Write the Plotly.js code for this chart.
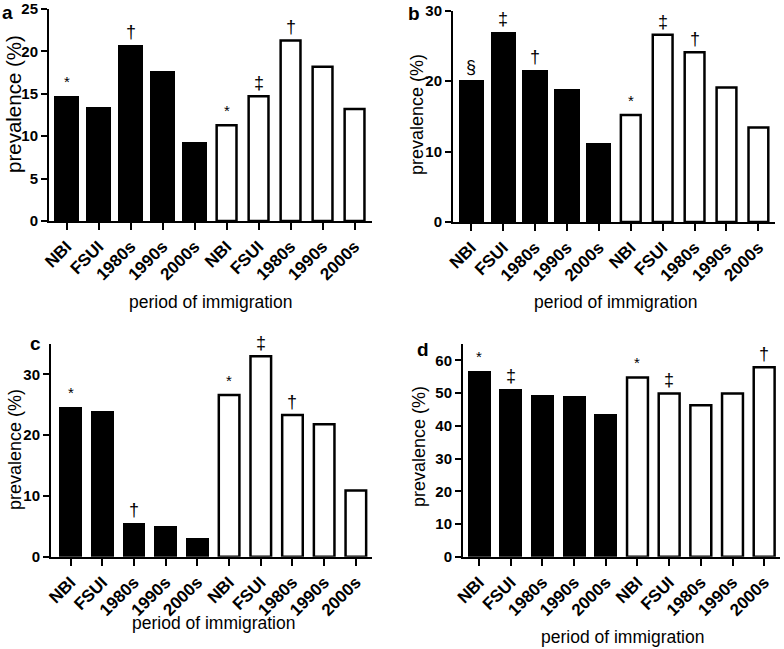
<!DOCTYPE html>
<html>
<head>
<meta charset="utf-8">
<script src="https://cdn.plot.ly/plotly-3.0.1.min.js"></script>
<style>html,body{margin:0;padding:0;background:#fff;}#chart{width:784px;height:649px;}</style>
</head>
<body>
<div id="chart"></div>
<script>
// ---- data ----
const categories = ['NBI', 'FSUI', '1980s', '1990s', '2000s'];
const tickLabels = categories.concat(categories);

const a_black = [14.8, 13.5, 20.8, 17.7, 9.35];
const a_white = [11.3, 14.7, 21.3, 18.2, 13.2];
const a_black_marks = ['*', '', '†', '', ''];
const a_white_marks = ['*', '‡', '†', '', ''];

const b_black = [20.2, 27.0, 21.6, 18.9, 11.2];
const b_white = [15.2, 26.6, 24.1, 19.1, 13.4];
const b_black_marks = ['§', '‡', '†', '', ''];
const b_white_marks = ['*', '‡', '†', '', ''];

const c_black = [24.7, 24.0, 5.5, 5.1, 3.1];
const c_white = [26.6, 33.0, 23.3, 21.8, 10.9];
const c_black_marks = ['*', '', '†', '', ''];
const c_white_marks = ['*', '‡', '†', '', ''];

const d_black = [56.7, 51.3, 49.3, 49.0, 43.6];
const d_white = [54.8, 49.9, 46.3, 49.9, 57.9];
const d_black_marks = ['*', '‡', '', '', ''];
const d_white_marks = ['*', '‡', '', '', '†'];

const yTitle = 'prevalence (%)';
const xTitle = 'period of immigration';

// ---- layout helpers ----
const W = 784, H = 649;
const FONT = 'Arial, "Liberation Sans", sans-serif';
const panels = [
  {id: '', letter: 'a', black: a_black, white: a_white, bm: a_black_marks, wm: a_white_marks,
   px: [49, 371.5], py: [9, 221], xr: [-0.55, 9.53], yr: [0, 25], dt: 5, bw: 0.79, ww: 0.62,
   letterPos: [8, 1], yt: [13, 104, 20.5], xt: [211, 302]},
  {id: '2', letter: 'b', black: b_black, white: b_white, bm: b_black_marks, wm: b_white_marks,
   px: [453, 775], py: [10.7, 222], xr: [-0.57, 9.52], yr: [0, 30], dt: 10, bw: 0.79, ww: 0.62,
   letterPos: [414, 2], yt: [417, 115, 18], xt: [615, 302]},
  {id: '3', letter: 'c', black: c_black, white: c_white, bm: c_black_marks, wm: c_white_marks,
   px: [51, 371.7], py: [344, 556.7], xr: [-0.62, 9.5], yr: [0, 35], dt: 10, bw: 0.72, ww: 0.65,
   letterPos: [35, 332], yt: [15, 450, 18], xt: [213, 623]},
  {id: '4', letter: 'd', black: d_black, white: d_white, bm: d_black_marks, wm: d_white_marks,
   px: [463, 780], py: [344, 556.7], xr: [-0.51, 9.5], yr: [0, 65], dt: 10, bw: 0.73, ww: 0.66,
   letterPos: [423, 338], yt: [419, 447, 18], xt: [622, 637]}
];

const data = [];
const annotations = [];
const layout = {
  width: W, height: H,
  margin: {l: 0, r: 0, t: 0, b: 0},
  paper_bgcolor: '#fff', plot_bgcolor: '#fff',
  showlegend: false,
  font: {family: FONT, color: '#000'},
  bargap: 0
};

panels.forEach(p => {
  const xa = 'x' + p.id, ya = 'y' + p.id;
  const n = categories.length;
  const xb = categories.map((_, i) => i);
  const xw = categories.map((_, i) => i + n);
  data.push({type: 'bar', x: xb, y: p.black, xaxis: xa, yaxis: ya, width: p.bw,
    marker: {color: '#000', line: {width: 0}}, hoverinfo: 'y'});
  data.push({type: 'bar', x: xw, y: p.white, xaxis: xa, yaxis: ya, width: p.ww,
    marker: {color: '#fff', line: {color: '#000', width: 2.5}}, hoverinfo: 'y'});

  const xKey = 'xaxis' + p.id, yKey = 'yaxis' + p.id;
  layout[xKey] = {
    domain: [p.px[0] / W, p.px[1] / W], anchor: ya, range: p.xr,
    tickmode: 'array', tickvals: xb.concat(xw), ticktext: tickLabels,
    tickangle: -45, ticks: 'outside', ticklen: 7, tickwidth: 2, tickcolor: '#000',
    showline: true, linewidth: 2, linecolor: '#000', showgrid: false, zeroline: false,
    tickfont: {family: FONT, size: 17, weight: 700, color: '#000'}, fixedrange: true
  };
  layout[yKey] = {
    domain: [1 - p.py[1] / H, 1 - p.py[0] / H], anchor: xa, range: p.yr, dtick: p.dt,
    ticks: 'outside', ticklen: 6, tickwidth: 2, tickcolor: '#000',
    showline: true, linewidth: 2, linecolor: '#000', showgrid: false, zeroline: false,
    tickfont: {family: FONT, size: 15, weight: 700, color: '#000'}, fixedrange: true
  };

  // significance marks
  const addMarks = (xs, ys, ms) => ms.forEach((m, i) => {
    if (!m) return;
    annotations.push({xref: xa, yref: ya, x: xs[i], y: ys[i], text: m, showarrow: false,
      yanchor: 'bottom', yshift: m === '*' ? 4 : 1,
      font: {family: FONT, size: m === '*' ? 15 : 18, color: '#000'}});
  });
  addMarks(xb, p.black, p.bm);
  addMarks(xw, p.white, p.wm);

  // panel letter
  annotations.push({xref: 'paper', yref: 'paper', x: p.letterPos[0] / W, y: 1 - p.letterPos[1] / H,
    text: '<b>' + p.letter + '</b>', showarrow: false, xanchor: 'center', yanchor: 'top',
    borderpad: 0, font: {family: FONT, size: 19, color: '#000'}});
  // axis titles
  annotations.push({xref: 'paper', yref: 'paper', x: p.yt[0] / W, y: 1 - p.yt[1] / H,
    text: yTitle, textangle: -90, showarrow: false, xanchor: 'center', yanchor: 'middle',
    font: {family: FONT, size: p.yt[2], color: '#000'}});
  annotations.push({xref: 'paper', yref: 'paper', x: p.xt[0] / W, y: 1 - p.xt[1] / H,
    text: xTitle, showarrow: false, xanchor: 'center', yanchor: 'middle',
    font: {family: FONT, size: 17.5, color: '#000'}});
});

layout.annotations = annotations;
Plotly.newPlot('chart', data, layout, {displayModeBar: false, staticPlot: true});
</script>
</body>
</html>
